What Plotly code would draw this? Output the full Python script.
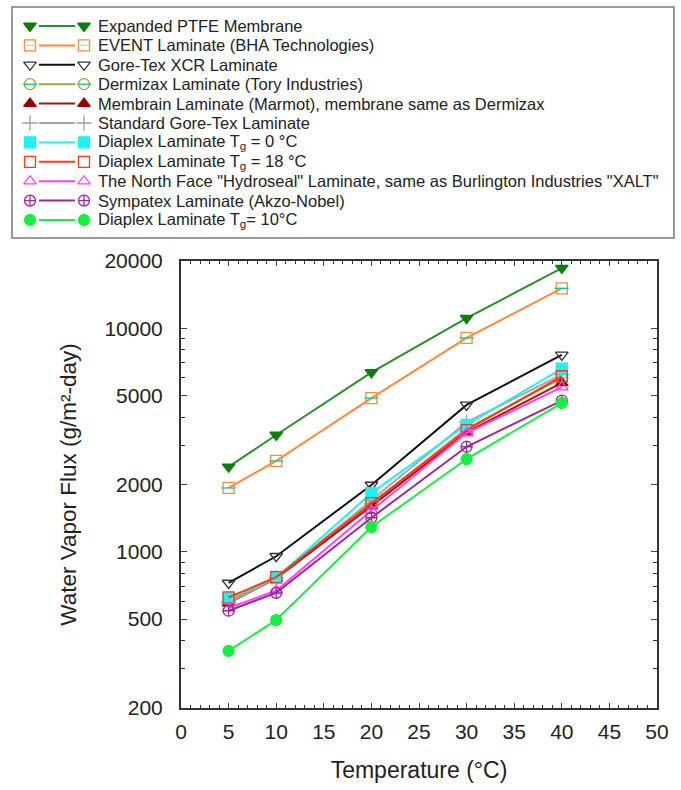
import plotly.graph_objects as go

temps = [5, 10, 20, 30, 40]

names = [
    "Expanded PTFE Membrane",
    "EVENT Laminate (BHA Technologies)",
    "Gore-Tex XCR Laminate",
    "Dermizax Laminate (Tory Industries)",
    "Membrain Laminate (Marmot), membrane same as Dermizax",
    "Standard Gore-Tex Laminate",
    "Diaplex Laminate T<sub>g</sub> = 0 °C",
    "Diaplex Laminate T<sub>g</sub> = 18 °C",
    "The North Face \"Hydroseal\" Laminate, same as Burlington Industries \"XALT\"",
    "Sympatex Laminate (Akzo-Nobel)",
    "Diaplex Laminate T<sub>g</sub>= 10°C",
]

flux_eptfe = [2400, 3330, 6350, 11100, 18600]
flux_event = [1930, 2550, 4870, 9050, 15100]
flux_xcr = [725, 955, 1990, 4540, 7600]
flux_dermizax = [600, 770, 1640, 3550, 6000]
flux_membrain = [590, 760, 1600, 3420, 5700]
flux_goretex = [590, 765, 1700, 3800, 6200]
flux_diaplex0 = [620, 765, 1830, 3700, 6600]
flux_diaplex18 = [625, 770, 1650, 3500, 6100]
flux_northface = [560, 670, 1530, 3400, 5450]
flux_sympatex = [545, 655, 1420, 2950, 4750]
flux_diaplex10 = [360, 495, 1290, 2600, 4630]

series = [flux_eptfe, flux_event, flux_xcr, flux_dermizax, flux_membrain,
          flux_goretex, flux_diaplex0, flux_diaplex18, flux_northface,
          flux_sympatex, flux_diaplex10]

line_colors = ["#2a8f2a", "#ff8a3c", "#111111", "#a3a335", "#a01515",
               "#a8a8a8", "#22f0f0", "#ff3a1a", "#ff40ff", "#9a2a9a", "#18ee40"]
marker_colors = ["#0d7d0d", "#ff8a3c", "#333333", "#a3a335", "#990000",
                 "#a0a0a0", "#22f0f0", "#ff3a1a", "#ff40ff", "#9a2a9a", "#18ee40"]
symbols = ["triangle-down", "square-open", "triangle-down-open", "circle-open",
           "triangle-up", "cross-thin-open", "square", "square-open",
           "triangle-up-open", "circle-cross-open", "circle"]
bar_overlay = (1, 3)  # EVENT and Dermizax symbols carry a horizontal bar

W, H = 681, 790
FONT = "Arial, Liberation Sans, sans-serif"

def px_x(p):
    return p / W

def px_y(p):
    return 1 - p / H

# layout geometry (pixels)
PLOT_L, PLOT_R, PLOT_T, PLOT_B = 181, 657, 261, 708
LEG_ROW0, LEG_ROW_H = 26, 19.4

fig = go.Figure()

# data traces
for i, ys in enumerate(series):
    fig.add_trace(go.Scatter(
        x=temps, y=ys, mode="lines+markers", showlegend=False, name=names[i],
        line=dict(color=line_colors[i], width=2),
        marker=dict(symbol=symbols[i], size=11, color=marker_colors[i],
                    line=dict(color=marker_colors[i], width=1.3)),
        xaxis="x", yaxis="y",
    ))
    if i in bar_overlay:
        fig.add_trace(go.Scatter(
            x=temps, y=ys, mode="markers", showlegend=False, hoverinfo="skip",
            marker=dict(symbol="line-ew-open", size=10,
                        line=dict(color=marker_colors[i], width=1.3)),
            xaxis="x", yaxis="y",
        ))

# legend keys drawn on a helper axis (x in pixels, y in legend row index)
for i, nm in enumerate(names):
    fig.add_trace(go.Scatter(
        x=[39, 75], y=[i, i], mode="lines", showlegend=False, hoverinfo="skip",
        line=dict(color=line_colors[i], width=2), xaxis="x2", yaxis="y2",
    ))
    fig.add_trace(go.Scatter(
        x=[30, 84], y=[i, i], mode="markers", showlegend=False, hoverinfo="skip",
        marker=dict(symbol=symbols[i], size=11, color=marker_colors[i],
                    line=dict(color=marker_colors[i], width=1.3)),
        xaxis="x2", yaxis="y2",
    ))
    if i in bar_overlay:
        fig.add_trace(go.Scatter(
            x=[30, 84], y=[i, i], mode="markers", showlegend=False, hoverinfo="skip",
            marker=dict(symbol="line-ew-open", size=10,
                        line=dict(color=marker_colors[i], width=1.3)),
            xaxis="x2", yaxis="y2",
        ))
    fig.add_annotation(
        text=nm, x=96, y=i, xref="x2", yref="y2", xanchor="left", yanchor="middle",
        showarrow=False, font=dict(size=16.5, family=FONT, color="#222"),
    )

# legend border
fig.add_shape(type="rect", xref="paper", yref="paper",
              x0=px_x(12), x1=px_x(674), y0=px_y(238), y1=px_y(7),
              line=dict(color="#7a7a7a", width=1.5), fillcolor="rgba(0,0,0,0)",
              layer="below")

y_tickvals = [200, 500, 1000, 2000, 5000, 10000, 20000]
y_minor = [300, 400, 600, 700, 800, 900, 3000, 4000, 6000, 7000, 8000, 9000]

fig.update_layout(
    width=W, height=H,
    margin=dict(l=0, r=0, t=0, b=0, autoexpand=False),
    paper_bgcolor="white", plot_bgcolor="rgba(0,0,0,0)",
    font=dict(family=FONT, color="#222"),
    showlegend=False,
    xaxis=dict(
        domain=[px_x(PLOT_L), px_x(PLOT_R)], anchor="y", automargin=False,
        range=[0, 50], tickvals=[0, 5, 10, 15, 20, 25, 30, 35, 40, 45, 50],
        ticks="inside", ticklen=5, showline=True, linecolor="#333", linewidth=2,
        mirror="ticks", showgrid=False, zeroline=False, ticklabelstandoff=4,
        minor=dict(dtick=1, ticks="inside", ticklen=3, tickcolor="#333"),
        tickfont=dict(size=21),
        title=dict(text="Temperature (°C)", font=dict(size=23), standoff=20),
    ),
    yaxis=dict(
        domain=[px_y(PLOT_B), px_y(PLOT_T)], anchor="x", automargin=False,
        type="log", range=[2.30103, 4.30103], tickvals=y_tickvals,
        ticktext=[str(v) for v in y_tickvals],
        ticks="inside", ticklen=6, showline=True, linecolor="#333", linewidth=2,
        mirror="ticks", showgrid=False, zeroline=False, ticklabelstandoff=12,
        minor=dict(tickvals=y_minor, ticks="inside", ticklen=4, tickcolor="#333"),
        tickfont=dict(size=21),
        title=dict(text="Water Vapor Flux (g/m²-day)", font=dict(size=22.5), standoff=22),
    ),
    xaxis2=dict(domain=[0, 1], range=[0, W], visible=False, anchor="y2",
                fixedrange=True, automargin=False),
    yaxis2=dict(domain=[0, 1], visible=False, anchor="x2", fixedrange=True, automargin=False,
                range=[(H - LEG_ROW0) / LEG_ROW_H, -LEG_ROW0 / LEG_ROW_H]),
)

fig.write_html("out.html")
